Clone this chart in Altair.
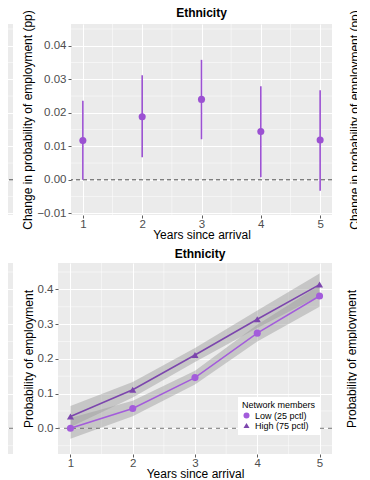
import altair as alt
import pandas as pd

# ---------------- data ----------------
years = [1, 2, 3, 4, 5]
x_ticks = [1, 2, 3, 4, 5]
x_minor = [1.5, 2.5, 3.5, 4.5]

# top panel: change in probability of employment (pp)
chg_est = [0.0117, 0.0188, 0.0240, 0.0144, 0.0119]
chg_lo = [0.0000, 0.0067, 0.0121, 0.0008, -0.0033]
chg_hi = [0.0236, 0.0312, 0.0358, 0.0279, 0.0267]
chg_ticks = [-0.01, 0.0, 0.01, 0.02, 0.03, 0.04]
chg_minor = [-0.005, 0.005, 0.015, 0.025, 0.035, 0.045]

# bottom panel: probability of employment by network size
groups = ["Low (25 pctl)", "High (75 pctl)"]
low_p = [0.000, 0.057, 0.146, 0.274, 0.381]
low_lo = [-0.030, 0.035, 0.126, 0.250, 0.350]
low_hi = [0.030, 0.079, 0.166, 0.298, 0.412]
high_p = [0.034, 0.111, 0.211, 0.314, 0.414]
high_lo = [0.004, 0.089, 0.191, 0.289, 0.382]
high_hi = [0.064, 0.133, 0.231, 0.339, 0.446]
prob_ticks = [0.0, 0.1, 0.2, 0.3, 0.4]
prob_minor = [-0.05, 0.05, 0.15, 0.25, 0.35, 0.45]

# neighbouring panels (only their edges are visible)
left_chg_year = [5]
left_chg_est = [0.0193]
left_chg_lo = [-0.0041]
left_chg_hi = [0.0441]
left_low_year = [5]
left_low_p = [0.371]
left_high_year = [5]
left_high_p = [0.416]

ref_line = [0.0]

# ---------------- style ----------------
FONT = "Liberation Sans"
PURPLE = "#9B51D2"
LOW_C = "#A35CDB"
HIGH_C = "#7C46AD"
BLUE = "#4A9AD8"
BLUE_LIGHT = "#7DB6E4"
RIBBON = "#9A9A9A"

W = 261
W_BOT = 274
H = 191

xs = alt.Scale(domain=[0.8, 5.2], nice=False, zero=False)
chg_scale = alt.Scale(domain=[-0.0105, 0.0465], nice=False, zero=False)
prob_scale = alt.Scale(domain=[-0.074, 0.476], nice=False, zero=False)
color_scale = alt.Scale(domain=groups, range=[LOW_C, HIGH_C])
shape_scale = alt.Scale(domain=groups, range=["circle", "triangle-up"])


def major_x():
    return alt.Axis(values=x_ticks, tickCount=len(x_ticks) + 5, format="d",
                    title="Years since arrival", grid=True, labelOverlap=False)


def major_y(vals, fmt, title):
    return alt.Axis(values=vals, tickCount=len(vals) + 5, format=fmt, title=title,
                    grid=True, labelOverlap=False)


def grid_only(vals):
    return alt.Axis(values=vals, tickCount=len(vals) + 5, labels=False, ticks=False,
                    domain=False, title=None, grid=True)


def X(field):
    return alt.X(field, type="quantitative", scale=xs)


def Y(field, scale):
    return alt.Y(field, type="quantitative", scale=scale)


ref_df = pd.DataFrame({"ref": ref_line})


def zero_rule(scale, color="#222222", dash=(4, 3)):
    return alt.Chart(ref_df).mark_rule(color=color, strokeDash=list(dash), strokeWidth=0.8).encode(
        y=Y("ref", scale)
    )


def minor_grid(yvals, yscale):
    gy = alt.Chart(pd.DataFrame({"v": yvals})).mark_rule(color="white", strokeWidth=0.5).encode(
        y=Y("v", yscale)
    )
    gx = alt.Chart(pd.DataFrame({"v": x_minor})).mark_rule(color="white", strokeWidth=0.5).encode(
        x=X("v")
    )
    return [gy, gx]


def carrier(df, yfield, yscale, yaxis):
    # invisible layer that owns the axes (drawn first)
    return alt.Chart(df).mark_point(opacity=0).encode(
        x=alt.X("year:Q", scale=xs, axis=major_x()),
        y=alt.Y(yfield, type="quantitative", scale=yscale, axis=yaxis),
    )


# ---------------- top row ----------------
top_df = pd.DataFrame({"year": years, "est": chg_est, "lo": chg_lo, "hi": chg_hi})

top_bars = alt.Chart(top_df).mark_rule(color=PURPLE, strokeWidth=1.6).encode(
    x=X("year"), y=Y("lo", chg_scale), y2="hi:Q",
)
top_pts = alt.Chart(top_df).mark_circle(color=PURPLE, size=50, opacity=1).encode(
    x=X("year"), y=Y("est", chg_scale),
)
center_top = alt.layer(
    carrier(top_df, "est", chg_scale, major_y(chg_ticks, ".2f", "Change in probability of employment (pp)")),
    *minor_grid(chg_minor, chg_scale), zero_rule(chg_scale), top_bars, top_pts
).properties(title=alt.Title("Ethnicity", offset=-10.5), width=W, height=H)

lt_df = pd.DataFrame({"year": left_chg_year, "est": left_chg_est, "lo": left_chg_lo, "hi": left_chg_hi})
lt_bars = alt.Chart(lt_df).mark_rule(color=BLUE_LIGHT, strokeWidth=1.6).encode(
    x=X("year"), y=Y("lo", chg_scale), y2="hi:Q",
)
lt_pts = alt.Chart(lt_df).mark_circle(color=BLUE, size=50, opacity=1).encode(
    x=X("year"), y=Y("est", chg_scale),
)
left_top = alt.layer(
    carrier(lt_df, "est", chg_scale, grid_only(chg_ticks)),
    *minor_grid(chg_minor, chg_scale), zero_rule(chg_scale), lt_bars, lt_pts
).properties(width=W, height=H)

right_top = alt.Chart(ref_df).mark_rule(color="#222222", strokeDash=[4, 3], strokeWidth=0.8).encode(
    y=alt.Y("ref:Q", scale=chg_scale, axis=major_y(chg_ticks, ".2f", "Change in probability of employment (pp)"))
).properties(width=W, height=H)

row1 = alt.hconcat(alt.hconcat(left_top, center_top, spacing=7), right_top, spacing=15)

# ---------------- bottom row ----------------
prob_df = pd.DataFrame({
    "year": years + years,
    "group": [groups[0]] * 5 + [groups[1]] * 5,
    "p": low_p + high_p,
    "lo": low_lo + high_lo,
    "hi": low_hi + high_hi,
})

leg = alt.Legend(
    title="Network members", orient="none", legendX=180, legendY=134,
    fillColor="white", padding=4, titleFontSize=9, labelFontSize=9,
    titleFontWeight="normal", titleColor="black", labelColor="black",
    titleFont=FONT, labelFont=FONT, titlePadding=1, rowPadding=0,
    symbolSize=36, symbolStrokeWidth=0, labelOffset=4,
)

ribbon = alt.Chart(prob_df).mark_area(color=RIBBON, opacity=0.45).encode(
    x=X("year"), y=Y("lo", prob_scale), y2="hi:Q", detail="group:N",
)


def group_line(name, color):
    return alt.Chart(prob_df).transform_filter(alt.datum.group == name).mark_line(
        strokeWidth=1.5, color=color
    ).encode(x=X("year"), y=Y("p", prob_scale))


pts = alt.Chart(prob_df).mark_point(filled=True, size=50, opacity=1).encode(
    x=X("year"),
    y=Y("p", prob_scale),
    color=alt.Color("group:N", scale=color_scale, legend=leg, sort=groups),
    shape=alt.Shape("group:N", scale=shape_scale, legend=leg, sort=groups),
)
center_bot = alt.layer(
    carrier(prob_df, "p", prob_scale, major_y(prob_ticks, ".1f", "Probability of employment")),
    *minor_grid(prob_minor, prob_scale), ribbon, zero_rule(prob_scale, "#555555", (4, 4)),
    group_line(groups[0], LOW_C), group_line(groups[1], HIGH_C), pts
).properties(title=alt.Title("Ethnicity", dx=5, offset=1.5), width=W_BOT, height=H)

lb_low = pd.DataFrame({"year": left_low_year, "p": left_low_p})
lb_high = pd.DataFrame({"year": left_high_year, "p": left_high_p})
lb_c = alt.Chart(lb_low).mark_point(filled=True, size=50, opacity=1, color=BLUE, shape="circle").encode(
    x=X("year"), y=Y("p", prob_scale),
)
lb_t = alt.Chart(lb_high).mark_point(filled=True, size=50, opacity=1, color=BLUE, shape="triangle-up").encode(
    x=X("year"), y=Y("p", prob_scale),
)
left_bot = alt.layer(
    carrier(lb_low, "p", prob_scale, grid_only(prob_ticks)),
    *minor_grid(prob_minor, prob_scale), zero_rule(prob_scale, "#555555", (4, 4)), lb_c, lb_t
).properties(width=W, height=H)

right_bot = alt.Chart(ref_df).mark_rule(color="#555555", strokeDash=[4, 4], strokeWidth=0.8).encode(
    y=alt.Y("ref:Q", scale=prob_scale, axis=major_y(prob_ticks, ".1f", "Probability of employment"))
).properties(width=W, height=H)

inner2 = alt.hconcat(left_bot, center_bot, spacing=8).resolve_legend(
    color="independent", shape="independent"
)
row2 = alt.hconcat(inner2, right_bot, spacing=12).resolve_legend(
    color="independent", shape="independent"
)

chart = alt.vconcat(row1, row2, spacing=7).resolve_legend(
    color="independent", shape="independent"
).properties(
    padding={"left": -257, "right": -303, "top": -1, "bottom": 0}
).configure_view(
    fill="#EBEBEB", stroke=None
).configure_axis(
    labelFont=FONT, labelFontSize=11.5, labelColor="#4D4D4D",
    titleFont=FONT, titleFontSize=12, titleFontWeight="normal", titleColor="black",
    domain=False, tickColor="#333333", tickSize=3, tickWidth=0.8,
    gridColor="white", gridWidth=1,
).configure_axisX(
    titlePadding=0, labelPadding=0
).configure_axisY(
    titlePadding=2, labelPadding=2
).configure_title(
    font=FONT, fontSize=12, fontWeight="bold", offset=3, anchor="middle", color="black"
)

chart.save("out.html", embed_options={"renderer": "svg", "actions": False})
